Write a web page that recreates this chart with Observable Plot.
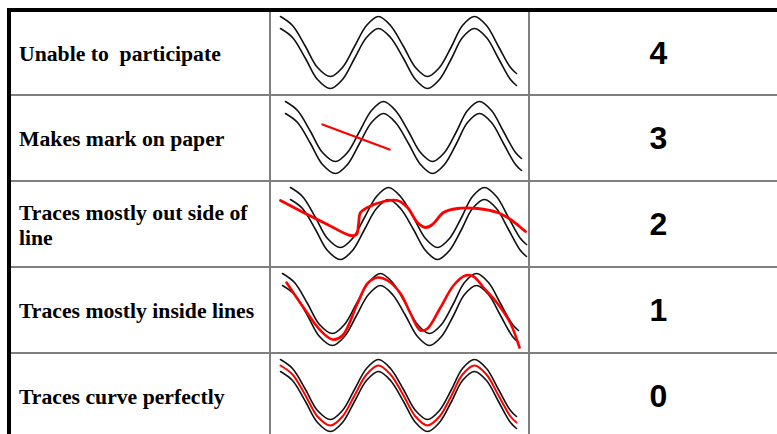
<!DOCTYPE html>
<html>
<head>
<meta charset="utf-8">
<script src="https://cdn.jsdelivr.net/npm/d3@7"></script>
<script src="https://cdn.jsdelivr.net/npm/@observablehq/plot@0.6"></script>
<style>
  html, body { margin: 0; padding: 0; background: #fff; }
  #sheet { position: relative; width: 777px; height: 434px; overflow: hidden; background: #fff; }
  .blk { position: absolute; }
  .label { position: absolute; display: flex; align-items: center; box-sizing: border-box;
           padding: 3px 2px 0 8px; font: bold 21.7px/25px "Liberation Serif", "Times New Roman", serif;
           color: #000; white-space: pre-wrap; }
  .score { position: absolute; display: flex; align-items: center; justify-content: center;
           font: bold 32px "Liberation Sans", Arial, sans-serif; color: #000; }
  .cell { position: absolute; }
  .cell svg { overflow: visible; display: block; }
</style>
</head>
<body>
<div id="sheet"></div>
<script>
// ---- data ----
const labels = ["Unable to  participate", "Makes mark on paper", "Traces mostly out side of line", "Traces mostly inside lines", "Traces curve perfectly"];
const scores = [4, 3, 2, 1, 0];

// printed guide curves (x along the cell, y down from the row's top line)
const guideX      = [10, 22, 35, 47, 60, 72, 84, 96, 108, 120, 133, 145, 157, 169, 181, 192, 204, 216, 228, 240, 246];
const guideUpperY = [6, 15, 36, 57, 66, 57, 36, 15, 6, 15, 36, 57, 66, 57, 36, 15, 6, 15, 36, 57, 63];
const guideLowerY = [18, 27, 48, 69, 78, 69, 48, 27, 18, 27, 48, 69, 78, 69, 48, 27, 18, 27, 48, 69, 75];

// red traces drawn by the child (score 3, 2, 1, 0)
const trace3X = [52, 119];
const trace3Y = [29, 54];
const trace2X = [10, 33, 57, 80, 86, 88, 90, 97, 113, 127, 137, 147, 155, 162, 173, 187, 207, 227, 240, 255];
const trace2Y = [19, 31, 43, 54, 53, 43, 31, 26, 20, 19, 26, 41, 46, 43, 31, 27, 27, 31, 38, 50];
const trace1X = [16, 33, 50, 62, 72, 87, 97, 107, 117, 130, 140, 150, 157, 170, 183, 195, 203, 213, 227, 240, 249];
const trace1Y = [15, 40, 63, 72, 68, 36, 16, 10, 13, 26, 46, 63, 61, 40, 18, 8, 9, 20, 36, 56, 80];
const trace0X = [10, 22, 35, 47, 60, 72, 84, 96, 108, 120, 133, 145, 157, 169, 181, 192, 204, 216, 228, 240, 246];
const trace0Y = [12, 21, 42, 63, 72, 63, 42, 21, 12, 21, 42, 63, 72, 63, 42, 21, 12, 21, 42, 63, 69];

// ---- layout ----
const sheet = document.getElementById("sheet");
function box(cls, css) {
  const d = document.createElement("div");
  d.className = cls;
  Object.assign(d.style, css);
  sheet.appendChild(d);
  return d;
}
const grey = "#7f7f7f";
const rowTop = i => i === 0 ? 12 : 96 + 86 * (i - 1);
const rowBottom = i => 94 + 86 * i;
const rowLine = i => i === 0 ? 10 : 95 + 86 * (i - 1);
const guideShift = [0, 5, 10, 2, 0];

const zip = (xs, ys) => xs.map((x, k) => ({x, y: ys[k]}));
const upper = zip(guideX, guideUpperY);
const lower = zip(guideX, guideLowerY);
const traces = [null, zip(trace3X, trace3Y), zip(trace2X, trace2Y), zip(trace1X, trace1Y), zip(trace0X, trace0Y)];
const traceWidth = [0, 2.4, 2.8, 2.6, 2];

labels.forEach((label, i) => {
  const top = rowTop(i), h = rowBottom(i) - top;
  const l = box("label", {left: "11px", top: top + "px", width: "258px", height: h + "px"});
  l.textContent = label;
  const s = box("score", {left: "530px", top: top + "px", width: "257px", height: h + "px"});
  s.textContent = scores[i];

  const marks = [
    Plot.line(upper, {x: "x", y: "y", curve: "catmull-rom", stroke: "#111", strokeWidth: 1.6, dx: guideShift[i]}),
    Plot.line(lower, {x: "x", y: "y", curve: "catmull-rom", stroke: "#111", strokeWidth: 1.6, dx: guideShift[i]})
  ];
  if (traces[i]) marks.push(Plot.line(traces[i], {x: "x", y: "y", curve: "catmull-rom", stroke: "#ff0000", strokeWidth: traceWidth[i], strokeLinecap: "round"}));

  const chart = Plot.plot({
    width: 259, height: 86, margin: 0,
    x: {domain: [0, 259], axis: null},
    y: {domain: [0, 86], reverse: true, axis: null},
    style: {background: "transparent", overflow: "visible"},
    marks
  });
  const c = box("cell", {left: "270px", top: rowLine(i) + "px", width: "259px", height: "86px"});
  c.appendChild(chart);
});

// grid lines and the heavy outer edge
[94, 180, 266, 352].forEach(y => box("blk", {left: "11px", top: y + "px", width: "800px", height: "2px", background: grey}));
[269, 528].forEach(x => box("blk", {left: x + "px", top: "12px", width: "2px", height: "500px", background: grey}));
box("blk", {left: "7px", top: "8px", width: "800px", height: "4px", background: "#000"});
box("blk", {left: "7px", top: "8px", width: "4px", height: "500px", background: "#000"});
</script>
</body>
</html>
